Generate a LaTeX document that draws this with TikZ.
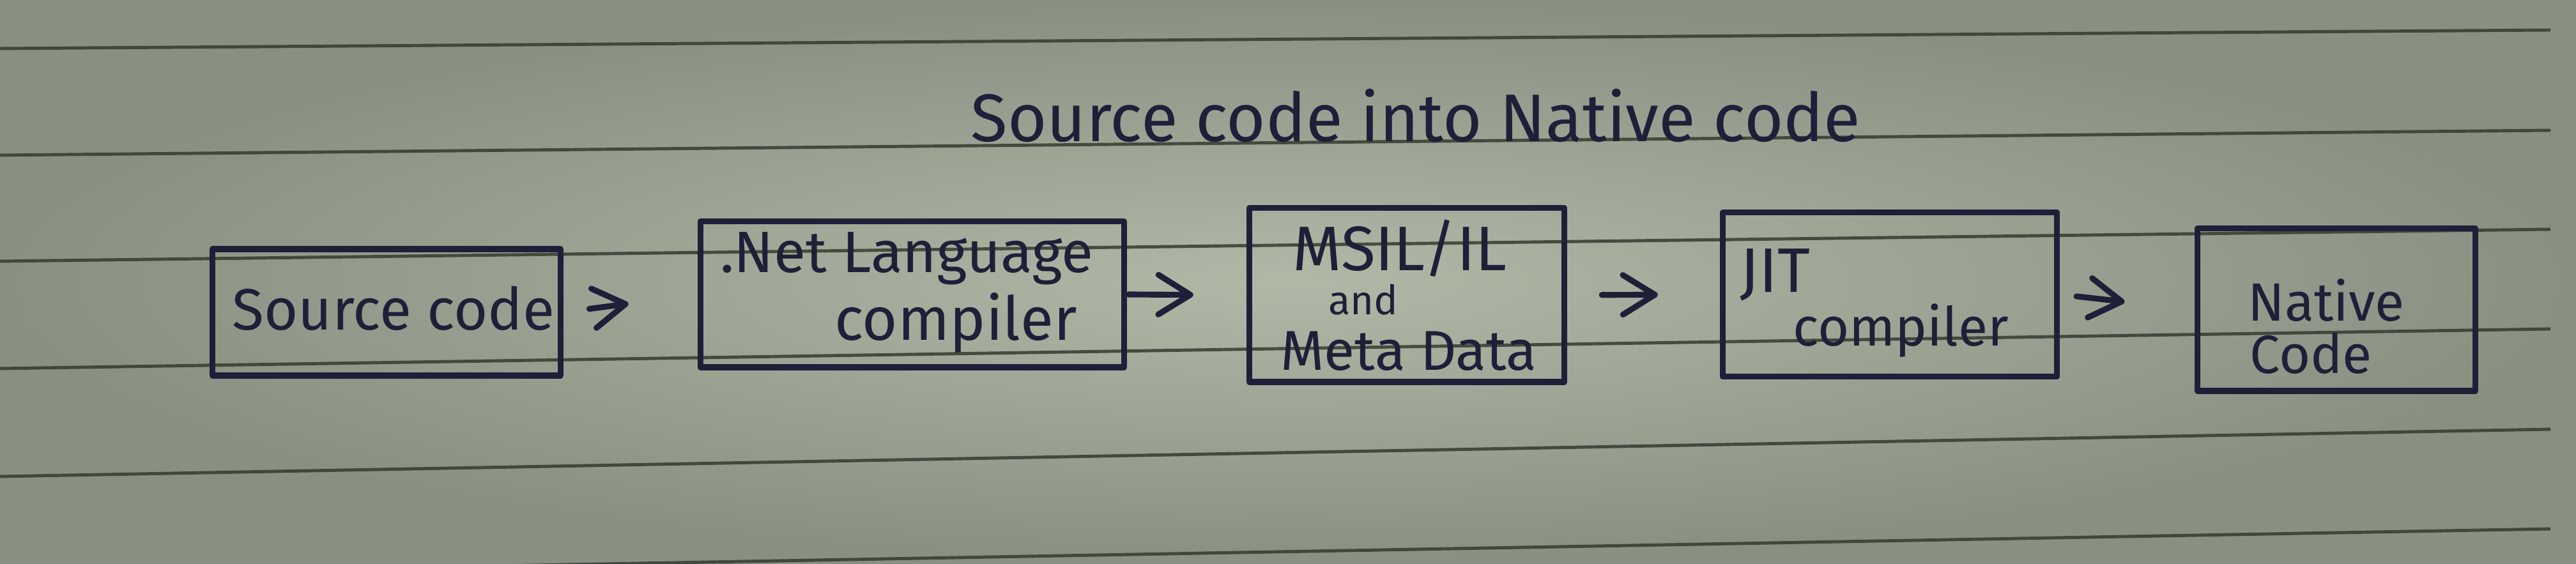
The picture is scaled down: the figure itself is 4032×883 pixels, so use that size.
\documentclass[tikz,border=0pt]{standalone}
\usepackage{fontspec}
\setmainfont{Fira Sans}
\usetikzlibrary{arrows.meta}
\definecolor{paperlight}{HTML}{B2B8A6}
\definecolor{paperdark}{HTML}{899082}
\definecolor{rulecol}{HTML}{353B2E}
\definecolor{ink}{HTML}{1D2038}
\begin{document}
\begin{tikzpicture}[x=0.01cm,y=-0.01cm,
  ruled/.style={draw=rulecol, line width=1.4pt, opacity=0.85},
  box/.style={draw=ink, line width=2.6pt, inner sep=0pt, line join=round},
  hand/.style={text=ink, inner sep=0pt, anchor=base},
  arr/.style={draw=ink, line width=2.6pt, line cap=round,
    -{Straight Barb[length=0.5cm,width=0.62cm,sep=0.3cm,round]}}]
% paper
\shade[inner color=paperlight, outer color=paperdark] (0,0) rectangle (4032,883);
\useasboundingbox (0,0) rectangle (4032,883);
% ruled lines
\draw[ruled] (0,76) -- (3992,47);
\draw[ruled] (0,243) -- (3992,204);
\draw[ruled] (0,409) -- (3992,359);
\draw[ruled] (0,577) -- (3992,515);
\draw[ruled] (0,746) -- (3992,672);
\draw[ruled] (0,900) -- (3992,828);
% title
\node[hand, font=\fontsize{30}{34}\selectfont] (title) at (2216,222) {Source code into Native code};
% boxes
\node[box, minimum width=5.44cm, minimum height=1.98cm] (b1) at (605,489) {};
\node[box, minimum width=6.63cm, minimum height=2.28cm] (b2) at (1428,461) {};
\node[box, minimum width=4.93cm, minimum height=2.72cm] (b3) at (2202,462) {};
\node[box, minimum width=5.23cm, minimum height=2.57cm] (b4) at (2958,461) {};
\node[box, minimum width=4.35cm, minimum height=2.54cm] (b5) at (3657,485) {};
% texts
\node[hand, font=\fontsize{26}{30}\selectfont] (t1) at (616,517) {Source code};
\node[hand, font=\fontsize{26}{30}\selectfont] (t2a) at (1419,427) {.Net Language};
\node[hand, font=\fontsize{27}{30}\selectfont] (t2b) at (1496,533) {compiler};
\node[hand, font=\fontsize{28}{30}\selectfont] (t3a) at (2191,424) {MSIL/IL};
\node[hand, font=\fontsize{18}{22}\selectfont] (t3b) at (2134,493) {and};
\node[hand, font=\fontsize{25}{30}\selectfont] (t3c) at (2205,580) {Meta Data};
\node[hand, font=\fontsize{28}{30}\selectfont] (t4a) at (2778,458) {JIT};
\node[hand, font=\fontsize{24}{28}\selectfont] (t4b) at (2975,542) {compiler};
\node[hand, font=\fontsize{24}{28}\selectfont] (t5a) at (3641,503) {Native};
\node[hand, font=\fontsize{24}{28}\selectfont] (t5b) at (3617,585) {Code};
% arrows
\draw[arr, shorten <=0.41cm, shorten >=0.79cm] (b1.east) -- (b2.west);
\draw[arr, shorten <=0.02cm, shorten >=0.53cm] (b2.east) -- (b3.west);
\draw[arr, shorten <=0.54cm, shorten >=0.67cm] (b3.east) -- (b4.west);
\draw[arr, shorten <=0.26cm, shorten >=0.80cm] (b4.east) -- (b5.west);
\end{tikzpicture}
\end{document}
